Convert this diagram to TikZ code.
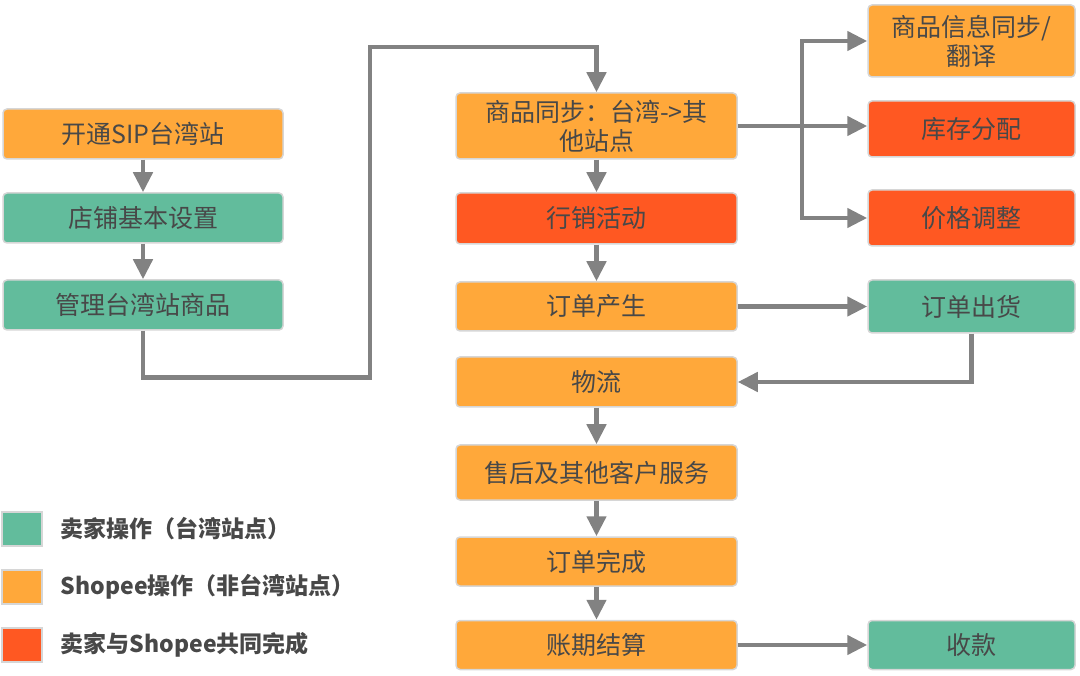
\documentclass[tikz,border=0pt]{standalone}
\usepackage{fontspec}
\setmainfont{Noto Sans CJK SC}
\usepackage{tikz}
\usetikzlibrary{arrows.meta,positioning}
\definecolor{cSeller}{RGB}{98,188,156}
\definecolor{cShopee}{RGB}{255,168,58}
\definecolor{cJoint}{RGB}{255,88,34}
\definecolor{cArrow}{RGB}{130,130,130}
\definecolor{cEdge}{RGB}{214,214,214}
\definecolor{cText}{RGB}{72,72,72}

\begin{document}
\begin{tikzpicture}[x=1pt,y=-1pt,
  box/.style={draw=cEdge,line width=1.5pt,rounded corners=4pt,inner sep=0pt,align=center,
    text=cText,font=\fontsize{25}{29}\selectfont},
  leftbox/.style={box,minimum width=280pt,minimum height=50pt},
  midbox/.style={box,minimum width=281pt},
  rightbox/.style={box,minimum width=207pt},
  arr/.style={draw=cArrow,line width=4.5pt,-{Triangle[length=20pt,width=19pt]}},
  legendbox/.style={draw=cEdge,line width=1.5pt,minimum width=40pt,minimum height=34pt,inner sep=0pt},
  legendtext/.style={text=cText,font=\fontsize{23}{27}\selectfont\bfseries,inner sep=0pt}]
  \useasboundingbox (0,0) rectangle (1080,676);

  \node[leftbox,fill=cShopee] (open) at (143,134) {开通SIP台湾站};
  \node[leftbox,fill=cSeller] (setup) at (143,218) {店铺基本设置};
  \node[leftbox,fill=cSeller] (manage) at (143,305) {管理台湾站商品};

  \node[midbox,fill=cShopee,minimum height=66pt] (sync) at (596.5,126) {商品同步：台湾->其\\他站点};
  \node[midbox,fill=cJoint,minimum height=51pt] (promo) at (596.5,218.5) {行销活动};
  \node[midbox,fill=cShopee,minimum height=49pt] (order) at (596.5,306.5) {订单产生};
  \node[midbox,fill=cShopee,minimum height=50pt] (logi) at (596.5,382) {物流};
  \node[midbox,fill=cShopee,minimum height=55pt] (after) at (596.5,472.5) {售后及其他客户服务};
  \node[midbox,fill=cShopee,minimum height=49pt] (done) at (596.5,561.5) {订单完成};
  \node[midbox,fill=cShopee,minimum height=49pt] (bill) at (596.5,645) {账期结算};

  \node[rightbox,fill=cShopee,minimum height=72pt] (info) at (971.5,41) {商品信息同步/\\翻译};
  \node[rightbox,fill=cJoint,minimum height=56pt] (stock) at (971.5,129) {库存分配};
  \node[rightbox,fill=cJoint,minimum height=56pt] (price) at (971.5,218) {价格调整};
  \node[rightbox,fill=cSeller,minimum height=53pt] (ship) at (971.5,306.5) {订单出货};
  \node[rightbox,fill=cSeller,minimum height=49pt] (pay) at (971.5,645) {收款};

  \coordinate (bend) at (370,47);
  \coordinate (fork) at (802,126);

  \draw[arr] (open) -- (setup);
  \draw[arr] (setup) -- (manage);
  \draw[arr] (manage.south) -- ++(0,47) -| (bend) -| (sync.north);
  \foreach \a/\b in {sync/promo,promo/order,logi/after,after/done,done/bill}
    \draw[arr] (\a) -- (\b);

  \draw[draw=cArrow,line width=4.5pt] (sync.east) -- (fork);
  \draw[arr] (fork) -- (fork -| stock.west);
  \draw[arr] (fork) |- (info.west);
  \draw[arr] (fork) |- (price.west);

  \draw[arr] (order) -- (ship);
  \draw[arr] (ship.south) |- (logi.east);
  \draw[arr] (bill) -- (pay);

  \foreach \c/\t [count=\i] in {cSeller/卖家操作（台湾站点）,cShopee/Shopee操作（非台湾站点）,cJoint/卖家与Shopee共同完成} {
    \node[legendbox,fill=\c] (lgd\i) at (22,{471+58*\i}) {};
    \node[legendtext,right=18pt of lgd\i] (lgdtext\i) {\t};
  }
\end{tikzpicture}
\end{document}
